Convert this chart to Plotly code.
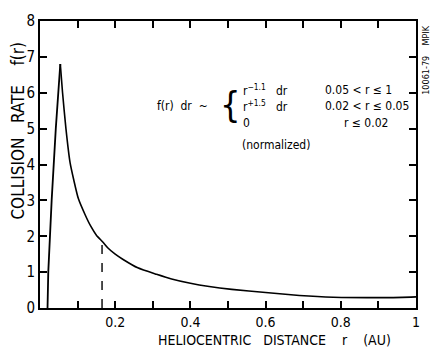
import plotly.graph_objects as go

# Rising branch (0.02 < r <= 0.05)
r_rise = [0.020, 0.022, 0.031, 0.042, 0.054]
f_rise = [0.0, 1.0, 3.0, 5.0, 6.8]
# Falling branch (r > 0.05)
r_fall = [0.054, 0.060, 0.069, 0.080, 0.090, 0.102, 0.120, 0.135, 0.150, 0.167, 0.180, 0.200, 0.220,
          0.260, 0.310, 0.350, 0.400, 0.450, 0.510, 0.600, 0.690, 0.780, 0.870, 0.930, 1.000]
f_fall = [6.8, 6.0, 5.0, 4.05, 3.56, 3.05, 2.60, 2.28, 2.03, 1.84, 1.68, 1.50, 1.36,
          1.12, 0.94, 0.81, 0.69, 0.60, 0.52, 0.43, 0.35, 0.30, 0.29, 0.29, 0.31]
# Dashed marker line
r_dash = [0.165, 0.165]
f_dash = [0.0, 1.85]

x_tickvals = [0.2, 0.4, 0.6, 0.8, 1.0]
x_ticktext = ["0.2", "0.4", "0.6", "0.8", "1"]
y_tickvals = [0, 1, 2, 3, 4, 5, 6, 7, 8]
y_ticktext = ["0", "1", "2", "3", "4", "5", "6", "7", "8"]

FONT = "DejaVu Sans Condensed, Liberation Sans Narrow, sans-serif"

fig = go.Figure()
fig.add_trace(go.Scatter(x=r_rise, y=f_rise, mode="lines",
                         line=dict(color="black", width=1.8), showlegend=False))
fig.add_trace(go.Scatter(x=r_fall, y=f_fall, mode="lines",
                         line=dict(color="black", width=1.6, shape="spline", smoothing=0.6),
                         showlegend=False))
fig.add_trace(go.Scatter(x=r_dash, y=f_dash, mode="lines",
                         line=dict(color="black", width=1.4, dash="dash"), showlegend=False))

fig.update_layout(
    width=434, height=350,
    margin=dict(l=40, r=18, t=12, b=42),
    paper_bgcolor="white", plot_bgcolor="white",
    font=dict(family=FONT, color="black", size=14),
)
fig.update_xaxes(range=[0, 1], tickvals=x_tickvals, ticktext=x_ticktext,
                 ticks="inside", ticklen=7, tickwidth=1.5, tickcolor="black",
                 minor=dict(dtick=0.1, tick0=0, ticks="inside", ticklen=7, tickwidth=1.5, tickcolor="black"),
                 showline=True, linecolor="black", linewidth=2, mirror="ticks",
                 showgrid=False, zeroline=False, tickfont=dict(size=14, family=FONT))
fig.update_yaxes(range=[0, 8], tickvals=y_tickvals, ticktext=y_ticktext,
                 ticks="inside", ticklen=7, tickwidth=1.5, tickcolor="black",
                 showline=True, linecolor="black", linewidth=2, mirror="ticks",
                 showgrid=False, zeroline=False, tickfont=dict(size=15, family=FONT))

# (text, x_px, y_px, angle, size, xanchor)
ann = [
    ("COLLISION   RATE    f(r)", 18, 125, -90, 17, "center"),
    ("HELIOCENTRIC   DISTANCE    r    (AU)", 274, 341, 0, 14, "center"),
    ("10061-79    MPIK", 426, 52, -90, 9, "center"),
    ("f(r)  dr  ~", 155, 100, 0, 12, "left"),
    ("{", 243, 98, 0, 36, "right"),
    ("r<sup>−1.1</sup>   dr", 241, 83, 0, 12, "left"),
    ("r<sup>+1.5</sup>   dr", 241, 100, 0, 12, "left"),
    ("0", 241, 117, 0, 12, "left"),
    ("0.05 &lt; r ≤ 1", 323, 83, 0, 12, "left"),
    ("0.02 &lt; r ≤ 0.05", 323, 100, 0, 12, "left"),
    ("r ≤ 0.02", 342, 117, 0, 12, "left"),
    ("(normalized)", 240, 140, 0, 12, "left"),
]
plot_l, plot_r, plot_t, plot_b = 40, 416, 12, 308
for text, px, py, ang, size, xa in ann:
    fig.add_annotation(text=text,
                       x=(px - plot_l) / (plot_r - plot_l),
                       y=(plot_b - py) / (plot_b - plot_t),
                       xref="paper", yref="paper", xanchor=xa, yanchor="middle",
                       textangle=ang, showarrow=False,
                       font=dict(size=size, family=FONT, color="black"))

fig.write_html("out.html")
